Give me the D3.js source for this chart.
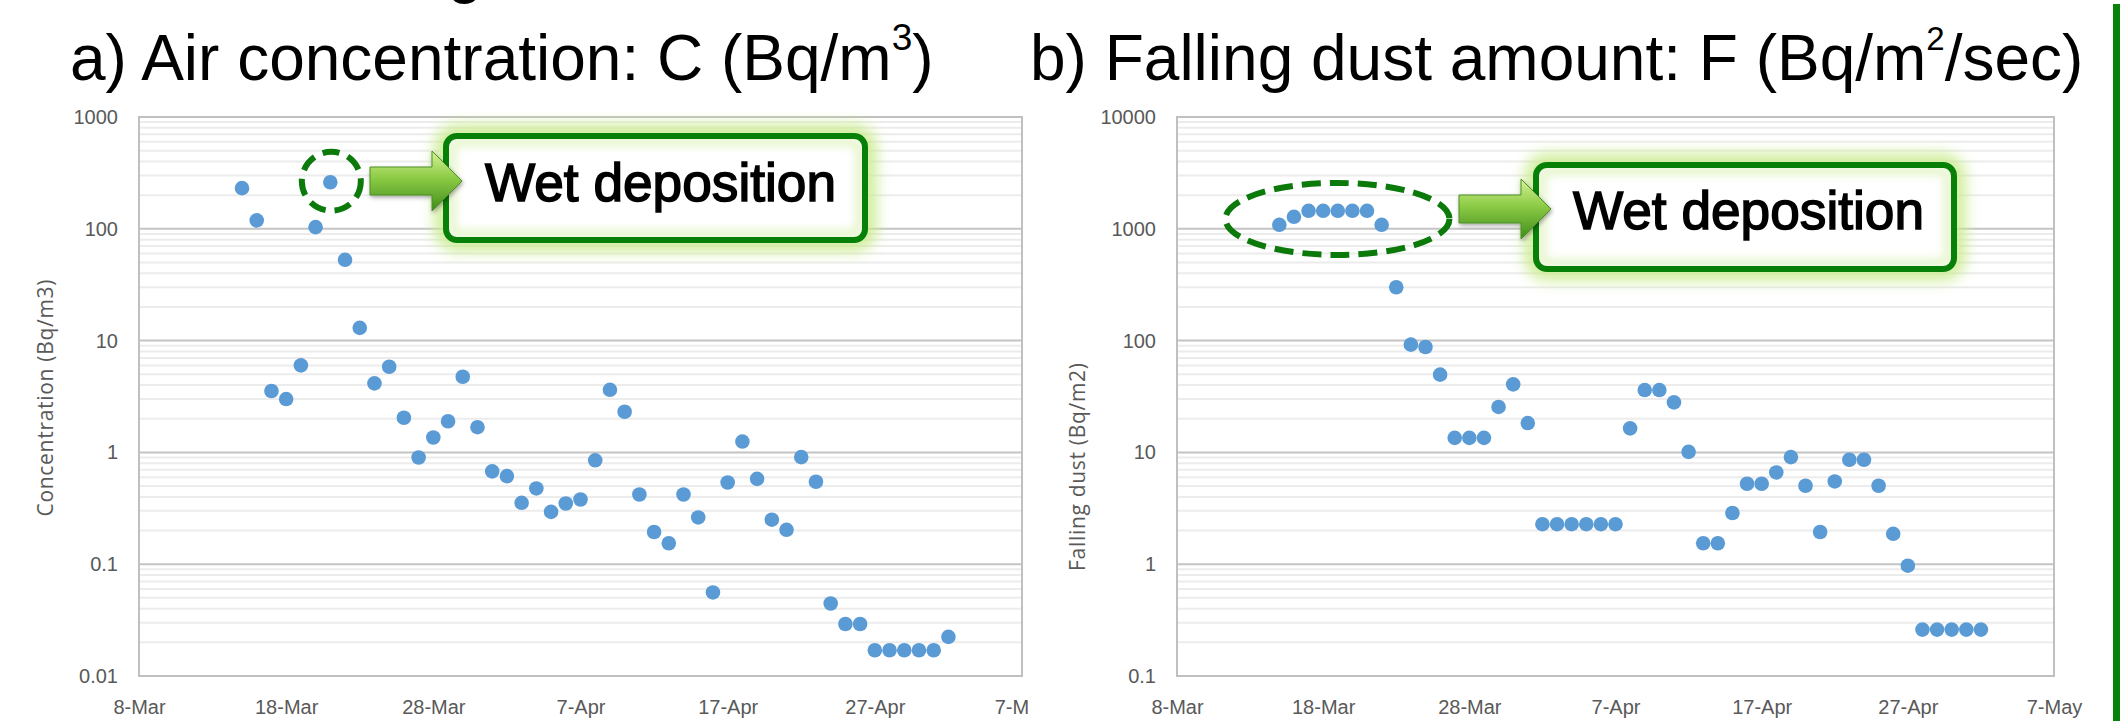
<!DOCTYPE html>
<html>
<head>
<meta charset="utf-8">
<script src="https://cdn.jsdelivr.net/npm/d3@7"></script>
<style>
  body { margin:0; background:#fff; }
  svg { display:block; }
  .tick-label { font-family:'Liberation Sans', Arial, sans-serif; font-size:20px; fill:#595959; }
  .axis-title { font-family:'Open Sans', sans-serif; font-size:21px; fill:#595959; }
  .panel-title { font-family:'Liberation Sans', Arial, sans-serif; font-size:64px; fill:#000; }
  .callout { font-family:'Liberation Sans', Arial, sans-serif; font-size:53px; fill:#000; stroke:#000; stroke-width:1.5; }
</style>
</head>
<body>
<svg id="chart" width="2120" height="721"></svg>
<script>
// sampling days (2011)
const sampleDates = ['2011-03-15','2011-03-16','2011-03-17','2011-03-18','2011-03-19','2011-03-20','2011-03-21',
  '2011-03-22','2011-03-23','2011-03-24','2011-03-25','2011-03-26','2011-03-27','2011-03-28','2011-03-29',
  '2011-03-30','2011-03-31','2011-04-01','2011-04-02','2011-04-03','2011-04-04','2011-04-05','2011-04-06',
  '2011-04-07','2011-04-08','2011-04-09','2011-04-10','2011-04-11','2011-04-12','2011-04-13','2011-04-14',
  '2011-04-15','2011-04-16','2011-04-17','2011-04-18','2011-04-19','2011-04-20','2011-04-21','2011-04-22',
  '2011-04-23','2011-04-24','2011-04-25','2011-04-26','2011-04-27','2011-04-28','2011-04-29','2011-04-30',
  '2011-05-01','2011-05-02'];

// a) air concentration, Bq/m3
const airValues = [231, 119, 3.54, 3.0, 6.0, 103.5, 261, 52.8, 13.0, 4.14, 5.84, 2.04, 0.90, 1.36, 1.90,
  4.75, 1.68, 0.676, 0.614, 0.354, 0.476, 0.294, 0.349, 0.379, 0.85, 3.63, 2.31, 0.42, 0.194, 0.154, 0.42,
  0.262, 0.0559, 0.538, 1.25, 0.58, 0.25, 0.203, 0.908, 0.546, 0.0445, 0.0292, 0.0292, 0.017, 0.017, 0.017,
  0.017, 0.017, 0.0224];

// b) falling dust, Bq/m2
const dustValues = [1086, 1280, 1449, 1449, 1449, 1449, 1449, 1086, 300, 92, 87.7, 49.6, 13.5, 13.5, 13.5,
  25.5, 40.6, 18.3, 2.28, 2.28, 2.28, 2.28, 2.28, 2.28, 16.4, 36.1, 36.1, 28, 10.1, 1.54, 1.54, 2.87, 5.24,
  5.24, 6.62, 9.08, 5.03, 1.94, 5.5, 8.6, 8.6, 5.03, 1.87, 0.97, 0.26, 0.26, 0.26, 0.26, 0.26];

const xTickDates = ['2011-03-08','2011-03-18','2011-03-28','2011-04-07','2011-04-17','2011-04-27','2011-05-07'];
const xTickLabels = ['8-Mar','18-Mar','28-Mar','7-Apr','17-Apr','27-Apr','7-May'];
const airTicks = [0.01, 0.1, 1, 10, 100, 1000];
const airTickLabels = ['0.01','0.1','1','10','100','1000'];
const dustTicks = [0.1, 1, 10, 100, 1000, 10000];
const dustTickLabels = ['0.1','1','10','100','1000','10000'];

const parse = d3.timeParse('%Y-%m-%d');
const svg = d3.select('#chart');
const defs = svg.append('defs');
const plotTop = 117, plotBottom = 676;

// glow + shadow filters
defs.append('filter').attr('id','glow').attr('x','-20%').attr('y','-60%').attr('width','140%').attr('height','220%')
  .append('feGaussianBlur').attr('stdDeviation',7);
defs.append('filter').attr('id','soft').attr('x','-20%').attr('y','-60%').attr('width','140%').attr('height','220%')
  .append('feGaussianBlur').attr('stdDeviation',4);
defs.append('filter').attr('id','shadow').attr('x','-30%').attr('y','-40%').attr('width','160%').attr('height','180%')
  .append('feDropShadow').attr('dx',1).attr('dy',2).attr('stdDeviation',2)
  .attr('flood-color','#000').attr('flood-opacity',0.35);
const grad = defs.append('linearGradient').attr('id','arrowFill').attr('x1',0).attr('y1',0).attr('x2',0).attr('y2',1);
grad.append('stop').attr('offset','0%').attr('stop-color','#d6f297');
grad.append('stop').attr('offset','45%').attr('stop-color','#8ccb45');
grad.append('stop').attr('offset','100%').attr('stop-color','#3f8c1b');

function drawPanel(p){
  const x = d3.scaleTime()
    .domain([parse(xTickDates[0]), parse(xTickDates[xTickDates.length-1])])
    .range([p.left, p.right]);
  const y = d3.scaleLog().domain(p.domain).range([plotBottom, plotTop]);
  const g = svg.append('g');
  const isMajor = v => Math.abs(Math.log10(v) - Math.round(Math.log10(v))) < 1e-6;

  // minor gridlines
  g.append('g').selectAll('line')
    .data(y.ticks().filter(v => !isMajor(v)))
    .join('line')
    .attr('x1',p.left).attr('x2',p.right)
    .attr('y1',d => y(d)).attr('y2',d => y(d))
    .style('stroke','#ececec').style('stroke-width',2);

  // major gridlines
  g.append('g').selectAll('line')
    .data(p.ticks)
    .join('line')
    .attr('x1',p.left).attr('x2',p.right)
    .attr('y1',d => y(d)).attr('y2',d => y(d))
    .style('stroke','#c4c4c4').style('stroke-width',2);

  g.append('rect')
    .attr('x',p.left).attr('y',plotTop)
    .attr('width',p.right - p.left).attr('height',plotBottom - plotTop)
    .style('fill','none').style('stroke','#c0c0c0').style('stroke-width',2);

  // y axis labels
  const yAxis = g.append('g')
    .attr('transform','translate(' + p.left + ',0)')
    .call(d3.axisLeft(y).tickValues(p.ticks).tickFormat((d,i) => p.tickLabels[i]).tickSize(0).tickPadding(21));
  yAxis.select('.domain').remove();
  yAxis.attr('font-size',null).attr('font-family',null);
  yAxis.selectAll('text').attr('class','tick-label');

  // x axis labels
  const xAxis = g.append('g')
    .attr('transform','translate(0,' + plotBottom + ')')
    .call(d3.axisBottom(x).tickValues(xTickDates.map(parse)).tickFormat((d,i) => xTickLabels[i]).tickSize(0).tickPadding(24));
  xAxis.select('.domain').remove();
  xAxis.attr('font-size',null).attr('font-family',null);
  xAxis.selectAll('text').attr('class','tick-label');
  if(p.clip){
    defs.append('clipPath').attr('id',p.clip.id)
      .append('rect').attr('x',0).attr('y',0).attr('width',p.clip.width).attr('height',721);
    xAxis.attr('clip-path','url(#' + p.clip.id + ')');
  }

  // axis title
  g.append('text')
    .attr('class','axis-title')
    .attr('transform','translate(' + p.titleX + ',' + p.titleY + ') rotate(-90)')
    .attr('text-anchor','middle')
    .attr('dominant-baseline','central')
    .attr('textLength',p.titleLen)
    .attr('lengthAdjust','spacing')
    .text(p.axisTitle);

  // points
  g.append('g').selectAll('circle')
    .data(sampleDates.map((d,i) => ({date: parse(d), value: p.values[i]})))
    .join('circle')
    .attr('cx',d => x(d.date))
    .attr('cy',d => y(d.value))
    .attr('r',7.3)
    .style('fill','#5b9bd5');

  return {x:x, y:y};
}

const air = drawPanel({
  left:139, right:1022, domain:[0.01,1000], ticks:airTicks, tickLabels:airTickLabels,
  values:airValues, axisTitle:'Concentration (Bq/m3)', titleX:44.5, titleY:398, titleLen:237,
  clip:{id:'clipA', width:1028}
});
const dust = drawPanel({
  left:1177, right:2054, domain:[0.1,10000], ticks:dustTicks, tickLabels:dustTickLabels,
  values:dustValues, axisTitle:'Falling dust (Bq/m2)', titleX:1077, titleY:467, titleLen:208
});

// panel titles
function panelTitle(xPos, main, sup, supSize, rest){
  const t = svg.append('text').attr('class','panel-title').attr('x',xPos).attr('y',80);
  t.append('tspan').text(main);
  t.append('tspan').attr('dy',-30).style('font-size',supSize + 'px').text(sup);
  t.append('tspan').attr('dy',30).text(rest);
}
panelTitle(70, 'a) Air concentration: C (Bq/m', '3', 37, ')');
panelTitle(1030, 'b) Falling dust amount: F (Bq/m', '2', 33, '/sec)');

// cut-off heading glyph above
svg.append('text').attr('class','panel-title').attr('x',447).attr('y',-9).text('g');

// right edge green rule
svg.append('rect').attr('x',2113).attr('y',4).attr('width',7).attr('height',717).style('fill','#078307');

// callouts
function callout(bx, by, bw, bh, tx, ty){
  const g = svg.append('g');
  g.append('rect').attr('x',bx).attr('y',by).attr('width',bw).attr('height',bh).attr('rx',11)
    .style('fill','none').style('stroke','#c9eb8c').style('stroke-width',24).style('opacity',0.85)
    .attr('filter','url(#glow)');
  g.append('rect').attr('x',bx).attr('y',by).attr('width',bw).attr('height',bh).attr('rx',11)
    .style('fill','#fff');
  g.append('rect').attr('x',bx + 6).attr('y',by + 6).attr('width',bw - 12).attr('height',bh - 12).attr('rx',8)
    .style('fill','none').style('stroke','#e3f4c6').style('stroke-width',8)
    .attr('filter','url(#soft)');
  g.append('rect').attr('x',bx).attr('y',by).attr('width',bw).attr('height',bh).attr('rx',11)
    .style('fill','none').style('stroke','#078007').style('stroke-width',6);
  g.append('text').attr('class','callout').attr('x',tx).attr('y',ty)
    .attr('textLength',351).attr('lengthAdjust','spacingAndGlyphs')
    .text('Wet deposition');
}

function arrow(x0, y0){
  svg.append('path')
    .attr('d','M0,-14 L62,-14 L62,-30 L92,0 L62,30 L62,14 L0,14 Z')
    .attr('transform','translate(' + x0 + ',' + y0 + ')')
    .style('fill','url(#arrowFill)')
    .style('stroke','#4d8f27').style('stroke-width',1)
    .attr('filter','url(#shadow)');
}

// left: single wet-deposition day
const wetAir = {date: parse(sampleDates[6]), value: airValues[6]};
svg.append('circle')
  .attr('cx',air.x(wetAir.date) + 1).attr('cy',air.y(wetAir.value) - 1).attr('r',29.5)
  .style('fill','none').style('stroke','#0b7a0b').style('stroke-width',6)
  .style('stroke-dasharray','17,9');
callout(446, 136, 419, 104, 485, 201);
arrow(370, 181);

// right: run of wet-deposition days
const wetFirst = parse(sampleDates[0]), wetLast = parse(sampleDates[7]);
svg.append('ellipse')
  .attr('cx',(dust.x(wetFirst) + dust.x(wetLast)) / 2 + 7)
  .attr('cy',dust.y(1225))
  .attr('rx',112).attr('ry',36)
  .style('fill','none').style('stroke','#0b7a0b').style('stroke-width',6)
  .style('stroke-dasharray','19,9');
callout(1536, 165, 418, 104, 1573, 229);
arrow(1459, 209);
</script>
</body>
</html>
